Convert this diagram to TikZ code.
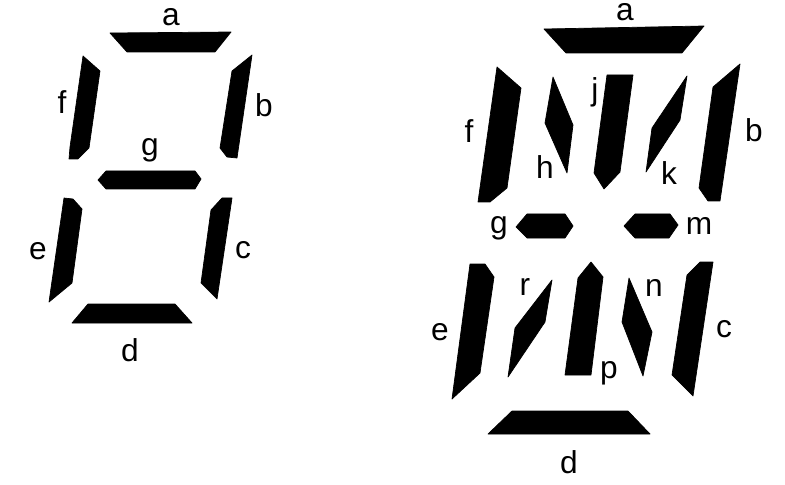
\documentclass[tikz,border=0pt]{standalone}
\usepackage{fontspec}
\setmainfont{Liberation Sans}
\begin{document}
\begin{tikzpicture}[
  x=0.01cm, y=-0.01cm,
  seg/.style={fill=black, draw=black, line width=0.2pt, line join=round},
  lab/.style={font=\fontsize{9}{10}\selectfont, inner sep=0pt, text=black},
]
\useasboundingbox (0,0) rectangle (785,485);

% Left display: seven segments
\fill[seg] (110,33) -- (231,32) -- (215,52) -- (127,52) -- cycle;
\fill[seg] (83,56) -- (100,71) -- (89,148) -- (78,159) -- (69,159) -- (70,147) -- cycle;
\fill[seg] (252,55) -- (232,71) -- (220,148) -- (227,157) -- (237,158) -- cycle;
\fill[seg] (98,180) -- (106,171) -- (195,171) -- (201,179) -- (195,189) -- (106,189) -- cycle;
\fill[seg] (64,198) -- (73,199) -- (82,209) -- (72,283) -- (49,302) -- cycle;
\fill[seg] (232,198) -- (222,198) -- (211,210) -- (201,283) -- (217,299) -- cycle;
\fill[seg] (88,304) -- (175,304) -- (192,323) -- (72,323) -- cycle;

% Right display: outer segments
\fill[seg] (544,29) -- (704,26) -- (682,53) -- (566,53) -- cycle;
\fill[seg] (497,67) -- (521,88) -- (507,188) -- (490,202) -- (478,202) -- cycle;
\fill[seg] (740,64) -- (713,87) -- (699,188) -- (708,201) -- (720,201) -- cycle;
\fill[seg] (470,264) -- (485,264) -- (494,277) -- (480,373) -- (452,399) -- cycle;
\fill[seg] (713,262) -- (700,262) -- (687,275) -- (672,375) -- (693,396) -- cycle;
\fill[seg] (512,411) -- (628,411) -- (650,434) -- (488,434) -- cycle;

% Right display: inner segments
\fill[seg] (553,77) -- (573,125) -- (567,173) -- (545,123) -- cycle;
\fill[seg] (607,75) -- (633,75) -- (620,172) -- (604,189) -- (594,173) -- cycle;
\fill[seg] (687,76) -- (680,120) -- (646,172) -- (652,128) -- cycle;
\fill[seg] (516,227) -- (527,214) -- (565,214) -- (573,226) -- (565,238) -- (527,238) -- cycle;
\fill[seg] (624,226) -- (635,214) -- (670,214) -- (678,225) -- (669,238) -- (635,238) -- cycle;
\fill[seg] (552,280) -- (545,322) -- (508,377) -- (515,328) -- cycle;
\fill[seg] (591,262) -- (603,277) -- (591,375) -- (565,375) -- (578,278) -- cycle;
\fill[seg] (629,278) -- (652,332) -- (643,376) -- (622,322) -- cycle;

% Labels, left
\node[lab] (la) at (171,17) {a};
\node[lab] (lb) at (264,105) {b};
\node[lab] (lc) at (243,250) {c};
\node[lab] (ld) at (130,350) {d};
\node[lab] (le) at (38,251) {e};
\node[lab] (lf) at (62,102) {f};
\node[lab] (lg) at (150,150) {g};

% Labels, right
\node[lab] (ra) at (625,12) {a};
\node[lab] (rb) at (754,130) {b};
\node[lab] (rc) at (724,329) {c};
\node[lab] (rd) at (569,462) {d};
\node[lab] (re) at (440,332) {e};
\node[lab] (rf) at (469,131) {f};
\node[lab] (rg) at (499,228) {g};
\node[lab] (rh) at (545,167) {h};
\node[lab] (rj) at (595,92) {j};
\node[lab] (rk) at (669,173) {k};
\node[lab] (rm) at (699,226) {m};
\node[lab] (rn) at (654,288) {n};
\node[lab] (rp) at (609,373) {p};
\node[lab] (rr) at (525,287) {r};
\end{tikzpicture}
\end{document}
